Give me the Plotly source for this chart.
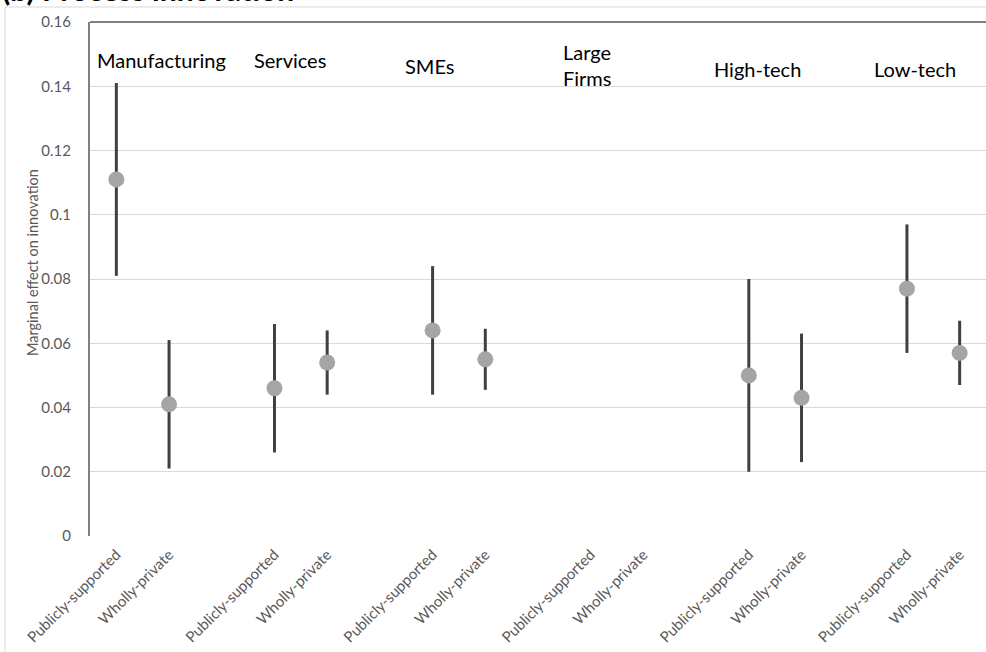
import plotly.graph_objects as go

# Marginal effects on process innovation by firm group
groups = ["Manufacturing", "Services", "SMEs", "Large<br>Firms", "High-tech", "Low-tech"]
kinds = ["Publicly-supported", "Wholly-private"]

ps_effect = [0.111, 0.046, 0.064, None, 0.050, 0.077]
ps_ci = [0.030, 0.020, 0.020, None, 0.030, 0.020]
wp_effect = [0.041, 0.054, 0.055, None, 0.043, 0.057]
wp_ci = [0.020, 0.010, 0.0095, None, 0.020, 0.010]

y_ticks = [0, 0.02, 0.04, 0.06, 0.08, 0.10, 0.12, 0.14, 0.16]
y_tick_text = ["0", "0.02", "0.04", "0.06", "0.08", "0.1", "0.12", "0.14", "0.16"]

# Each group takes three slots: two estimates and an empty spacer
xs, ys, errs, tickvals, ticktext = [], [], [], [], []
for g in range(len(groups)):
    for k, (eff, ci) in enumerate([(ps_effect, ps_ci), (wp_effect, wp_ci)]):
        pos = g * 3 + k
        xs.append(pos)
        ys.append(eff[g])
        errs.append(ci[g])
        tickvals.append(pos)
        ticktext.append(kinds[k])

FONT = "Lato, Calibri, Carlito, sans-serif"
GRAY_TXT = "#595959"

fig = go.Figure()
# confidence intervals (drawn first so the markers sit on top)
fig.add_trace(go.Scatter(
    x=xs, y=ys, mode="markers",
    marker=dict(size=1, color="rgba(0,0,0,0)"),
    error_y=dict(type="data", array=errs, visible=True,
                 color="#404040", thickness=3, width=0),
    showlegend=False, hoverinfo="skip",
))
# point estimates
fig.add_trace(go.Scatter(
    x=xs, y=ys, mode="markers",
    marker=dict(size=16, color="#a5a5a5", line=dict(width=0)),
    showlegend=False,
))

W, H = 986, 652
L, R, T, B = 90, 0, 22, 116
pw, ph = W - L - R, H - T - B


def px_x(p):
    return (p - L) / pw


def px_y(p):
    return (H - B - p) / ph


# group headings
heading_pos = [(0.85, 60), (3.29, 60), (5.95, 66), (8.44, 65), (12.17, 69), (15.15, 69)]
for name, (hx, hy) in zip(groups, heading_pos):
    two_line = "<br>" in name
    fig.add_annotation(
        x=hx, y=px_y(hy), xref="x", yref="paper",
        text=name, showarrow=False,
        xanchor="left" if two_line else "center", yanchor="middle",
        align="left",
        font=dict(family=FONT, size=20, color="#000000"),
    )

# axis title
fig.add_annotation(
    x=px_x(32), y=px_y(262), xref="paper", yref="paper",
    text="Marginal effect on innovation", textangle=-90, showarrow=False,
    xanchor="center", yanchor="middle",
    font=dict(family=FONT, size=14.5, color=GRAY_TXT),
)

# panel title (partly above the page edge)
fig.add_annotation(
    x=px_x(0), y=px_y(9), xref="paper", yref="paper",
    text="<b>(b) Process innovation</b>", showarrow=False,
    xanchor="left", yanchor="bottom",
    font=dict(family=FONT, size=30, color="#000000"),
)

# chart frame and plot-area top edge
fig.add_shape(type="line", xref="paper", yref="paper",
              x0=px_x(5), x1=px_x(W + 5), y0=px_y(7), y1=px_y(7),
              line=dict(color="#d9d9d9", width=1))
fig.add_shape(type="line", xref="paper", yref="paper",
              x0=px_x(5), x1=px_x(5), y0=px_y(7), y1=px_y(H + 5),
              line=dict(color="#d9d9d9", width=1))
fig.add_shape(type="line", xref="paper", yref="paper",
              x0=0, x1=1.01, y0=1, y1=1,
              line=dict(color="#808080", width=2))

fig.update_layout(
    width=W, height=H,
    margin=dict(l=L, r=R, t=T, b=B),
    paper_bgcolor="white", plot_bgcolor="white",
    font=dict(family=FONT, color=GRAY_TXT),
    xaxis=dict(
        range=[-0.5, 3 * len(groups) - 1 - 0.5],
        tickvals=tickvals, ticktext=ticktext, tickangle=-45,
        tickfont=dict(family=FONT, size=15, color=GRAY_TXT),
        showgrid=False, zeroline=False, showline=False, ticks="",
        ticklabelstandoff=6,
    ),
    yaxis=dict(
        range=[0, 0.16], tickvals=y_ticks, ticktext=y_tick_text,
        tickfont=dict(family=FONT, size=15, color=GRAY_TXT),
        showgrid=True, gridcolor="#d9d9d9", gridwidth=1,
        zeroline=False, showline=True, linecolor="#808080", linewidth=2,
        ticks="", ticklabelstandoff=14,
    ),
)

fig.write_html("out.html")
